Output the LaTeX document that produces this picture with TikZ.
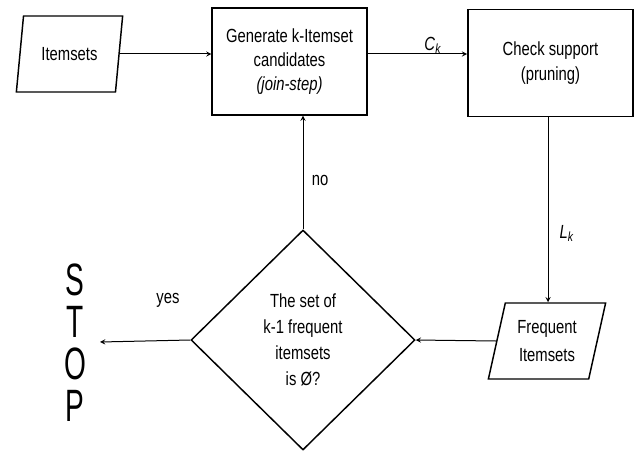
\documentclass[tikz,border=0pt]{standalone}
\usepackage{fontspec}
\setmainfont{Liberation Sans}[FakeStretch=0.78]
\newfontfamily\stopfont{Liberation Sans}[FakeStretch=0.62]
\usetikzlibrary{shapes.geometric}

\tikzset{
  procbox/.style={draw,line width=1.1pt,align=center,minimum height=80pt,
    font=\fontsize{14.25}{18}\selectfont},
  iobox/.style={draw,line width=1.1pt,trapezium,trapezium left angle=74,
    trapezium right angle=106,trapezium stretches=true,minimum height=57pt,
    inner sep=1pt,align=center},
  decbox/.style={draw,line width=1.1pt,diamond,minimum width=168pt,
    minimum height=165pt,inner sep=0pt,align=center,
    font=\fontsize{14.25}{19.5}\selectfont},
  lbl/.style={font=\fontsize{14.25}{17}\selectfont},
  stopchar/.style={font=\stopfont\fontsize{34}{34}\selectfont,inner sep=0pt},
  flow/.style={->,line width=0.75pt}
}

\begin{document}
\begin{tikzpicture}[>=stealth,x=0.75pt,y=-0.75pt]
  \fill[white] (0,0) rectangle (634,453);
  \useasboundingbox (0,0) rectangle (634,453);
  \node[iobox,minimum width=80pt,font=\fontsize{14.25}{17}\selectfont] (items) at (69.5,54) {Itemsets};
  \node[procbox,minimum width=116pt] (gen) at (289.5,61.5)
    {Generate k-Itemset\\candidates\\\textit{(join-step)}};
  \node[procbox,minimum width=124pt,font=\fontsize{14.25}{19}\selectfont] (check) at (550.5,63)
    {Check support\\(pruning)};
  \node[iobox,minimum width=88.5pt,font=\fontsize{14.25}{21}\selectfont] (freq) at (547,341)
    {Frequent\\Itemsets};
  \node[decbox] (dec) at (303,340) {The set of\\k-1 frequent\\itemsets\\is Ø?};
  \foreach \ch [count=\i] in {S,T,O,P}
    \node[stopchar] (stop\i) at (75,238+42*\i) {\ch};
  \coordinate (stoptip) at (100,342);
  % connectors
  \draw[flow] (items.east) -- (items.east -| gen.west);
  \draw[flow] (gen.east |- items.east) -- (check.west |- items.east);
  \draw[flow] (check.south -| 548,0) -- (548,0 |- freq.north);
  \draw[flow] (freq.west) -- (dec.east);
  \draw[flow] (dec.north) -- (dec.north |- gen.south);
  \draw[flow] (dec.west) -- (stoptip);
  % labels
  \node[lbl] (ck) at (433,45) {\textit{C}\textsubscript{\textit{k}}};
  \node[lbl] (lk) at (567,233) {\textit{L}\textsubscript{\textit{k}}};
  \node[lbl] (no) at (320,180) {no};
  \node[lbl] (yes) at (168,300) {yes};
\end{tikzpicture}
\end{document}
